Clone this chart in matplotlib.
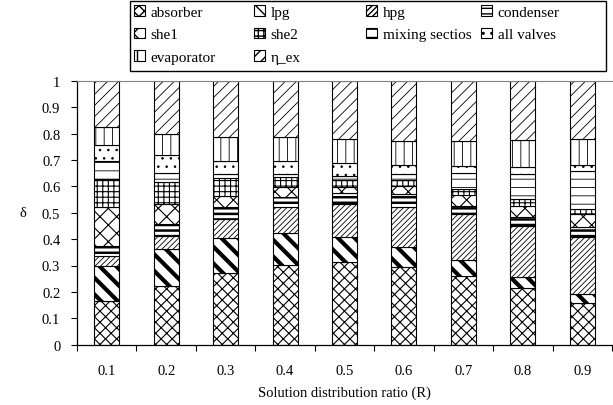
import numpy as np
import matplotlib
matplotlib.use("Agg")
import matplotlib.pyplot as plt
from matplotlib.patches import Rectangle

# stacked share of each component, one value per R
ratios = ["0.1", "0.2", "0.3", "0.4", "0.5", "0.6", "0.7", "0.8", "0.9"]

absorber   = [0.167, 0.221, 0.270, 0.303, 0.312, 0.295, 0.261, 0.213, 0.157]
lpg        = [0.133, 0.143, 0.134, 0.119, 0.095, 0.076, 0.060, 0.042, 0.035]
hpg        = [0.036, 0.047, 0.072, 0.101, 0.126, 0.152, 0.174, 0.196, 0.215]
condenser  = [0.038, 0.046, 0.044, 0.038, 0.042, 0.048, 0.032, 0.031, 0.040]
she1       = [0.146, 0.076, 0.044, 0.037, 0.023, 0.031, 0.041, 0.045, 0.048]
she2       = [0.108, 0.082, 0.068, 0.038, 0.027, 0.022, 0.022, 0.025, 0.019]
mixing     = [0.067, 0.036, 0.014, 0.010, 0.015, 0.022, 0.059, 0.094, 0.145]
valves     = [0.060, 0.066, 0.051, 0.048, 0.048, 0.036, 0.029, 0.028, 0.023]
evaporator = [0.071, 0.080, 0.091, 0.091, 0.091, 0.091, 0.095, 0.101, 0.097]
eta_ex     = [0.174, 0.203, 0.212, 0.215, 0.221, 0.227, 0.227, 0.225, 0.221]

# name, values, hatch, hatch line width, hatch colour
series = [
    ("absorber", absorber, "xxx", 0.8, "black"),
    ("lpg", lpg, "\\\\", 3.0, "black"),
    ("hpg", hpg, "//////", 0.6, "black"),
    ("condenser", condenser, "---", 1.8, "black"),
    ("she1", she1, "xx", 0.8, "black"),
    ("she2", she2, "+++", 0.8, "black"),
    ("mixing sectios", mixing, "--", 0.6, "black"),
    ("all valves", valves, "..", 0.6, "black"),
    ("evaporator", evaporator, "||", 0.6, "black"),
    ("\u03b7_ex", eta_ex, "///", 0.6, "#606060"),
]

plt.rcParams["font.family"] = ["Liberation Serif", "DejaVu Serif"]
plt.rcParams["font.size"] = 10.5

fig = plt.figure(figsize=(6.13, 4.06), dpi=100)
ax = fig.add_axes([77 / 613, 1 - 345.7 / 406, (612 - 77) / 613, 264 / 406])

x = np.arange(len(ratios))
bottom = np.zeros(len(ratios))
handles = {}
for name, vals, hatch, hlw, hcol in series:
    with plt.rc_context({"hatch.linewidth": hlw, "hatch.color": hcol}):
        bars = ax.bar(x, vals, 0.42, bottom=bottom, color="white",
                      edgecolor="black", linewidth=0.8, hatch=hatch, label=name)
    for b in bars:
        if hasattr(b, "set_hatch_linewidth"):
            b.set_hatch_linewidth(hlw)
    handles[name] = bars
    bottom += np.array(vals)

ax.set_xlim(-0.5, len(ratios) - 0.5)
ax.set_ylim(0, 1)
ax.set_yticks(np.arange(0, 1.01, 0.1))
ax.set_yticklabels(["0", "0.1", "0.2", "0.3", "0.4", "0.5", "0.6", "0.7", "0.8", "0.9", "1"])
ax.set_xticks(x)
ax.set_xticklabels(ratios)
ax.set_xticks(np.arange(-0.5, len(ratios)), minor=True)
ax.tick_params(axis="x", which="major", length=0, pad=14)
ax.tick_params(axis="x", which="minor", length=4, direction="out", width=0.8)
ax.tick_params(axis="y", length=4, direction="out", width=0.8, pad=8)

ax.spines["right"].set_visible(False)
ax.spines["top"].set_color("#808080")
for s in ("left", "bottom"):
    ax.spines[s].set_linewidth(0.9)

ax.set_xlabel("Solution distribution ratio (R)", labelpad=6)
ax.set_ylabel("\u03b4", rotation=0, labelpad=14, va="center")

# legend: four evenly spaced columns inside one black frame
columns = [["absorber", "she1", "evaporator"],
           ["lpg", "she2", "\u03b7_ex"],
           ["hpg", "mixing sectios"],
           ["condenser", "all valves"]]
col_x = [131, 251, 363, 478]
for names, cx in zip(columns, col_x):
    fig.legend([handles[n] for n in names], names, loc="upper left",
               bbox_to_anchor=(cx / 613, 1 - 3 / 406), frameon=False,
               fontsize=11, handlelength=0.7, handleheight=0.7,
               handletextpad=0.4, labelspacing=0.58, borderpad=0.2,
               borderaxespad=0)
fig.add_artist(Rectangle((130 / 613, 1 - 72 / 406), 476 / 613, 70 / 406,
                         transform=fig.transFigure, fill=False,
                         edgecolor="black", linewidth=1.0))

fig.savefig("out.png", dpi=100)
